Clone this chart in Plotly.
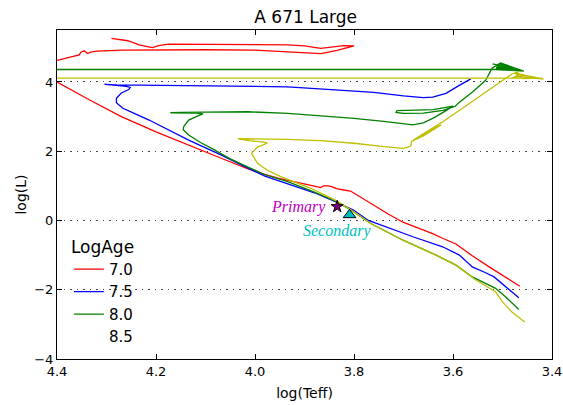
import plotly.graph_objects as go

# Isochrone tracks (log Teff, log L) for each log age
age_labels = ["7.0", "7.5", "8.0", "8.5"]
age_colors = ["#ff0000", "#0000ff", "#008000", "#bfbf00"]

teff_70 = [3.465, 3.49, 3.527, 3.561, 3.594, 3.62, 3.641, 3.67, 3.701, 3.73, 3.747, 3.774, 3.79, 3.807,
           3.821, 3.835, 3.845, 3.852, 3.862, 3.867, 3.88, 3.907, 3.934, 3.954, 3.98, 4.014, 4.067, 4.134,
           4.20, 4.27, 4.334, 4.40, 4.45,
           4.45, 4.40, 4.355, 4.352, 4.345, 4.338, 4.332, 4.32, 4.267, 4.2, 4.1, 4.0, 3.934, 3.90, 3.867,
           3.834, 3.80, 3.821, 3.845, 3.867, 3.90, 3.934, 4.0, 4.094, 4.174, 4.195, 4.207, 4.22, 4.234,
           4.257, 4.29]
logl_70 = [-1.90, -1.68, -1.34, -1.02, -0.68, -0.52, -0.38, -0.22, -0.05, 0.18, 0.33, 0.57, 0.72, 0.85,
           0.88, 0.92, 0.98, 1.0, 1.0, 0.95, 0.99, 1.07, 1.15, 1.22, 1.33, 1.49, 1.79, 2.18,
           2.56, 3.0, 3.48, 4.0, 4.42,
           4.55, 4.62, 4.78, 4.86, 4.90, 4.82, 4.86, 4.89, 4.92, 4.93, 4.93, 4.92, 4.87, 4.85, 4.82,
           4.91, 5.04, 5.05, 5.01, 4.97, 5.04, 5.07, 5.08, 5.09, 5.09, 5.05, 4.99, 5.03, 5.07,
           5.19, 5.26]

teff_75 = [3.467, 3.494, 3.517, 3.534, 3.561, 3.587, 3.621, 3.681, 3.734, 3.771, 3.801, 3.834, 3.88,
           3.934, 3.98, 4.014, 4.07, 4.134, 4.18, 4.214, 4.245, 4.267, 4.28, 4.28, 4.27, 4.255, 4.252,
           4.26, 4.285, 4.304, 4.28, 4.234, 4.1, 4.0, 3.934, 3.87, 3.80, 3.76, 3.70, 3.66, 3.641, 3.614,
           3.59, 3.564]
logl_75 = [-2.23, -1.92, -1.63, -1.51, -1.34, -1.0, -0.76, -0.47, -0.2, 0.0, 0.30, 0.52, 0.80,
           1.07, 1.28, 1.51, 1.90, 2.32, 2.66, 2.90, 3.10, 3.24, 3.40, 3.53, 3.68, 3.78, 3.84,
           3.87, 3.91, 3.93, 3.915, 3.91, 3.89, 3.88, 3.86, 3.80, 3.74, 3.70, 3.60, 3.55, 3.56, 3.67,
           3.88, 4.09]

teff_80 = [3.467, 3.494, 3.514, 3.53, 3.561, 3.594, 3.634, 3.701, 3.767, 3.801, 3.834, 3.88, 3.934,
           3.98, 4.014, 4.05, 4.081, 4.11, 4.134, 4.145, 4.144, 4.134, 4.114, 4.105, 4.12, 4.15, 4.171,
           4.15, 4.10, 4.014, 3.934, 3.86, 3.80, 3.74, 3.70, 3.681, 3.66, 3.641, 3.62, 3.60,
           3.64, 3.69, 3.713, 3.715, 3.70, 3.66, 3.62, 3.595, 3.59, 3.56, 3.534, 3.521, 3.504,
           3.457, 3.52, 3.458, 3.516, 3.46, 3.512, 3.463, 3.512, 3.468, 3.513, 3.472, 3.514,
           3.457, 3.508, 3.46, 3.514, 3.6, 4.0, 4.5]
logl_80 = [-2.57, -2.2, -1.96, -1.85, -1.63, -1.29, -1.0, -0.57, -0.08, 0.25, 0.54, 0.82, 1.12,
           1.32, 1.55, 1.78, 2.03, 2.25, 2.47, 2.62, 2.71, 2.90, 3.03, 3.08, 3.10, 3.11, 3.11,
           3.12, 3.13, 3.14, 3.09, 3.02, 2.95, 2.86, 2.78, 2.76, 2.82, 2.95, 3.12, 3.30,
           3.20, 3.17, 3.17, 3.12, 3.09, 3.10, 3.18, 3.30, 3.38, 3.72, 4.05, 4.40, 4.55,
           4.31, 4.52, 4.31, 4.49, 4.32, 4.46, 4.33, 4.43, 4.33, 4.40, 4.34, 4.37,
           4.31, 4.53, 4.32, 4.36, 4.36, 4.36, 4.36]

teff_85 = [3.455, 3.481, 3.50, 3.514, 3.554, 3.594, 3.634, 3.701, 3.767, 3.801, 3.834, 3.887, 3.947,
           3.975, 3.995, 4.007, 3.995, 3.975, 3.985, 4.01, 4.034, 4.0, 3.934, 3.86, 3.80, 3.74, 3.70,
           3.685, 3.684, 3.66, 3.624, 3.63, 3.672, 3.68, 3.66, 3.62, 3.58, 3.534, 3.50, 3.481, 3.467,
           3.475, 3.44, 3.417, 3.45, 3.47, 3.48, 3.455, 3.475, 3.46, 3.42, 3.6, 4.0, 4.5]
logl_85 = [-2.93, -2.64, -2.35, -2.06, -1.72, -1.29, -1.0, -0.57, -0.08, 0.26, 0.56, 0.93, 1.26,
           1.45, 1.65, 1.94, 2.12, 2.23, 2.27, 2.30, 2.36, 2.36, 2.34, 2.30, 2.23, 2.13, 2.08,
           2.15, 2.28, 2.44, 2.76, 2.72, 2.38, 2.32, 2.50, 2.86, 3.25, 3.70, 4.05, 4.23, 4.30,
           4.24, 4.15, 4.08, 4.13, 4.18, 4.12, 4.20, 4.26, 4.10, 4.11, 4.11, 4.11, 4.11]

# Observed binary components
star_names = ["Primary", "Secondary"]
star_teff = [3.834, 3.809]
star_logl = [0.40, 0.16]

x_ticks = [4.4, 4.2, 4.0, 3.8, 3.6, 3.4]
y_ticks = [-4, -2, 0, 2, 4]

tracks = [(teff_70, logl_70), (teff_75, logl_75), (teff_80, logl_80), (teff_85, logl_85)]

fig = go.Figure()

for (tx, ly), col in zip(tracks, age_colors):
    fig.add_trace(go.Scatter(x=tx, y=ly, mode="lines", line=dict(color=col, width=1.3),
                             showlegend=False, hoverinfo="skip"))

# legend entries (the oldest track has no line sample)
legend_colors = ["#ff0000", "#0000ff", "#008000", "rgba(0,0,0,0)"]
for lab, col in zip(age_labels, legend_colors):
    fig.add_trace(go.Scatter(x=[None], y=[None], mode="lines", line=dict(color=col, width=1.3),
                             name=lab, showlegend=True))

fig.add_trace(go.Scatter(x=[star_teff[0]], y=[star_logl[0]], mode="markers",
                         marker=dict(symbol="star", size=9, color="#800080",
                                     line=dict(color="black", width=1)),
                         showlegend=False))
fig.add_trace(go.Scatter(x=[star_teff[1]], y=[star_logl[1]], mode="markers",
                         marker=dict(symbol="triangle-up", size=11, color="#00bfbf",
                                     line=dict(color="black", width=1)),
                         showlegend=False))

fig.add_annotation(x=star_teff[0], y=star_logl[0], text=star_names[0], showarrow=False,
                   xanchor="right", yanchor="middle", xshift=-9,
                   font=dict(family="Liberation Serif", size=16, color="#bf00bf", style="italic"))
fig.add_annotation(x=star_teff[1], y=star_logl[1], text=star_names[1], showarrow=False,
                   xanchor="center", yanchor="middle", xshift=-13, yshift=-16,
                   font=dict(family="Liberation Serif", size=16, color="#00bfbf", style="italic"))

axis_common = dict(showline=True, linecolor="black", linewidth=1, mirror="ticks",
                   ticks="inside", ticklen=5, tickcolor="black", tickwidth=1,
                   zeroline=False, automargin=False, ticklabeloverflow="allow",
                   tickfont=dict(family="DejaVu Sans", size=13, color="black"))

fig.update_xaxes(range=[4.4, 3.4], tickvals=x_ticks, ticktext=[f"{v:.1f}" for v in x_ticks],
                 showgrid=False,
                 title=dict(text="log(Teff)", font=dict(family="DejaVu Sans", size=14, color="black"),
                            standoff=10),
                 **axis_common)
fig.update_yaxes(range=[-4, 5.5], tickvals=y_ticks, showgrid=True, gridcolor="#444444",
                 griddash="1.5px,5px", gridwidth=1,
                 title=dict(text="log(L)", font=dict(family="DejaVu Sans", size=14, color="black"),
                            standoff=4),
                 **axis_common)

fig.update_layout(
    width=563, height=405,
    margin=dict(l=57, r=11, t=30, b=46),
    paper_bgcolor="white", plot_bgcolor="white",
    title=dict(text="A 671 Large", x=0.5429, xanchor="center", y=0.958, yanchor="middle",
               font=dict(family="DejaVu Sans", size=17, color="black")),
    legend=dict(x=0.024, y=0.39, xanchor="left", yanchor="top", bgcolor="rgba(0,0,0,0)",
                borderwidth=0, font=dict(family="DejaVu Sans", size=15, color="black"),
                title=dict(text="LogAge", font=dict(family="DejaVu Sans", size=17, color="black"))),
)

fig.write_html("out.html")
